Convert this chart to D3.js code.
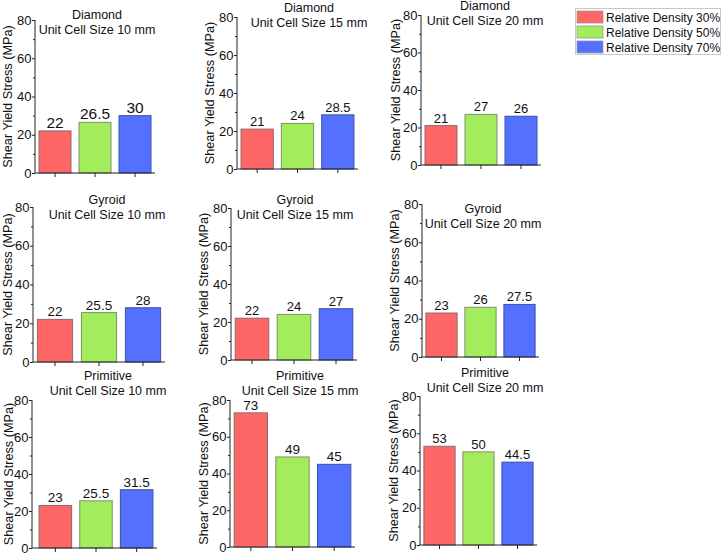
<!DOCTYPE html>
<html>
<head>
<meta charset="utf-8">
<script src="https://cdn.jsdelivr.net/npm/d3@7/dist/d3.min.js"></script>
<style>
  html, body { margin: 0; padding: 0; background: #fff; }
  svg { display: block; font-family: "Liberation Sans", Arial, sans-serif; }
</style>
</head>
<body>
<svg id="chart" width="723" height="555"></svg>
<script>
// ---- data ----
const structures = ["Diamond", "Gyroid", "Primitive"];
const cellSizes = ["10", "15", "20"];
const densities = ["Relative Density 30%", "Relative Density 50%", "Relative Density 70%"];
const diamondValues = [[22, 26.5, 30], [21, 24, 28.5], [21, 27, 26]];
const gyroidValues = [[22, 25.5, 28], [22, 24, 27], [23, 26, 27.5]];
const primitiveValues = [[23, 25.5, 31.5], [73, 49, 45], [53, 50, 44.5]];
const yTicks = [0, 20, 40, 60, 80];
const yMinorTicks = [10, 30, 50, 70];
const yLabel = "Shear Yield Stress (MPa)";

// ---- layout / style (not data) ----
const colors = ["#FF6666", "#A3EC5B", "#5470FF"];
const strokes = ["#8a6a6a", "#7f8f6f", "#3f4fa8"];
const layout = [
  {x0: 35,  x1: 155, b0: 35,  top: 20,  bottom: 173, tx: 97,  ty: 19,  lx: 12,   vfs: 15.5},
  {x0: 237, x1: 358, b0: 237, top: 17,  bottom: 169, tx: 309, ty: 12,  lx: 213.5, vfs: 13},
  {x0: 421, x1: 541, b0: 421, top: 15,  bottom: 165, tx: 485, ty: 10,  lx: 400,  vfs: 13},
  {x0: 33,  x1: 165, b0: 33,  top: 207, bottom: 362, tx: 107, ty: 204, lx: 11.5, vfs: 13.5},
  {x0: 231, x1: 357, b0: 231, top: 208, bottom: 360, tx: 295, ty: 204, lx: 207.5, vfs: 13},
  {x0: 422, x1: 539, b0: 422, top: 204, bottom: 357, tx: 483, ty: 213, lx: 398.5, vfs: 13},
  {x0: 32,  x1: 157, b0: 35,  top: 400, bottom: 548, tx: 108, ty: 380, lx: 12.5, vfs: 13.5},
  {x0: 230, x1: 355, b0: 230, top: 400, bottom: 547, tx: 300, ty: 380, lx: 207.5, vfs: 13.5},
  {x0: 420, x1: 537, b0: 420, top: 396, bottom: 545, tx: 485, ty: 377, lx: 397.5, vfs: 13}
];

const valuesByStructure = [diamondValues, gyroidValues, primitiveValues];
const panels = [];
structures.forEach((s, si) => {
  cellSizes.forEach((c, ci) => {
    panels.push({structure: s, size: c, values: valuesByStructure[si][ci]});
  });
});

const svg = d3.select("#chart");
const axisColor = "#222";

panels.forEach((p, i) => {
  const L = layout[i];
  const g = svg.append("g");
  const x = d3.scaleBand().domain(densities).range([L.b0, L.x1])
    .paddingInner(0.2).paddingOuter(0.1);
  const y = d3.scaleLinear().domain([0, 80]).range([L.bottom, L.top]);

  // bars
  g.selectAll("rect.bar").data(p.values).enter().append("rect")
    .attr("x", (d, k) => x(densities[k]))
    .attr("y", d => y(d))
    .attr("width", x.bandwidth())
    .attr("height", d => y(0) - y(d))
    .attr("fill", (d, k) => colors[k])
    .attr("stroke", (d, k) => strokes[k])
    .attr("stroke-width", 1);

  // value labels
  g.selectAll("text.val").data(p.values).enter().append("text")
    .attr("x", (d, k) => x(densities[k]) + x.bandwidth() / 2)
    .attr("y", d => y(d) - 3)
    .attr("text-anchor", "middle")
    .attr("font-size", L.vfs + "px")
    .attr("fill", "#111")
    .text(d => d);

  // y axis
  const yAxis = d3.axisLeft(y).tickValues(yTicks).tickSize(3).tickPadding(0.5)
    .tickFormat(d3.format("d"));
  const ya = g.append("g").attr("transform", `translate(${L.x0},0)`).call(yAxis);
  ya.select(".domain").attr("stroke", axisColor).attr("d", `M0,${L.top}V${L.bottom}`);
  ya.selectAll(".tick line").attr("stroke", axisColor);
  ya.selectAll(".tick text").attr("font-size", "13px").attr("fill", "#111")
    .attr("font-family", "Liberation Sans, Arial, sans-serif");
  const yMinor = d3.axisLeft(y).tickValues(yMinorTicks).tickSize(2).tickFormat("");
  const ym = g.append("g").attr("transform", `translate(${L.x0},0)`).call(yMinor);
  ym.select(".domain").remove();
  ym.selectAll(".tick line").attr("stroke", axisColor);

  // x axis
  const xAxis = d3.axisBottom(x).tickSize(4).tickFormat("");
  const xa = g.append("g").attr("transform", `translate(0,${L.bottom})`).call(xAxis);
  xa.select(".domain").attr("stroke", axisColor).attr("d", `M${L.x0},0H${L.x1}`);
  xa.selectAll(".tick line").attr("stroke", axisColor);

  // y label
  g.append("text")
    .attr("transform", `translate(${L.lx},${(L.top + L.bottom) / 2}) rotate(-90)`)
    .attr("text-anchor", "middle")
    .attr("font-size", "12.7px")
    .attr("fill", "#111")
    .text(yLabel);

  // title
  const t = g.append("text").attr("text-anchor", "middle").attr("font-size", "12.5px").attr("fill", "#111");
  t.append("tspan").attr("x", L.tx).attr("y", L.ty).text(p.structure);
  t.append("tspan").attr("x", L.tx).attr("y", L.ty + 15).text(`Unit Cell Size ${p.size} mm`);
});

// legend
const lg = svg.append("g");
lg.append("rect").attr("x", 575.5).attr("y", 8.5).attr("width", 145).attr("height", 46)
  .attr("fill", "#fff").attr("stroke", "#c8c8c8");
densities.forEach((d, k) => {
  lg.append("rect").attr("x", 577).attr("y", 11 + k * 15).attr("width", 26).attr("height", 12)
    .attr("fill", colors[k]).attr("stroke", "#999").attr("stroke-width", 0.8);
  lg.append("text").attr("x", 606).attr("y", 21.5 + k * 15).attr("font-size", "12px")
    .attr("fill", "#111").text(d);
});
</script>
</body>
</html>
